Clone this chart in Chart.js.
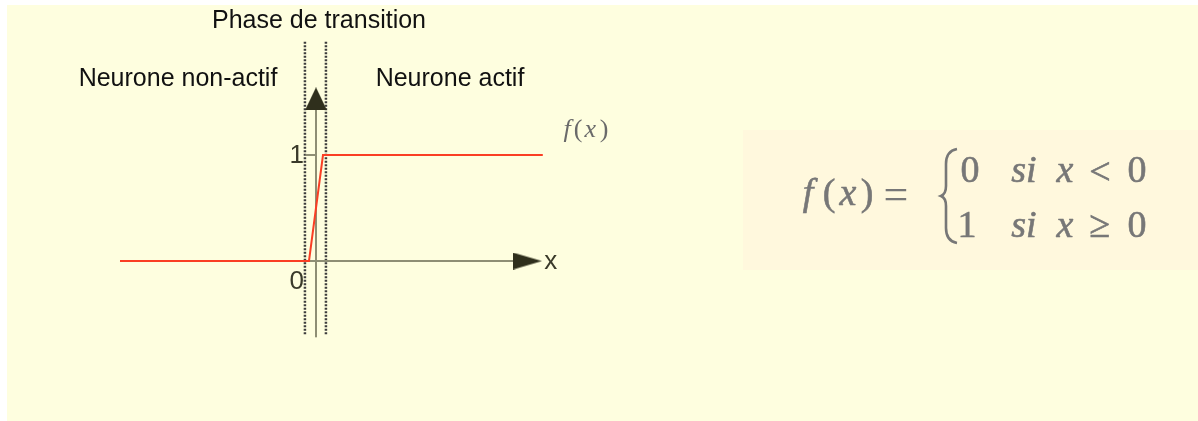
<!DOCTYPE html>
<html lang="fr">
<head>
<meta charset="UTF-8">
<title>Fonction seuil</title>
<script src="https://cdn.jsdelivr.net/npm/chart.js@4.4.1/dist/chart.umd.min.js"></script>
<style>
  body { margin: 0; background: #fff; }
  #wrap { position: relative; width: 1198px; height: 421px; }
</style>
</head>
<body>
<div id="wrap"><canvas id="canvas" width="1198" height="421"></canvas></div>
<script>
// step function f(x), transition between -0.5 and 0.5
let stepX = [-14, -0.5, 0.5, 16.2];
let stepY = [0, 0, 1, 1];
// axis lines
let xAxisX = [-0.8, 14.2];
let xAxisY = [0, 0];
let yAxisX = [0, 0];
let yAxisY = [-0.72, 1.45];
// arrow heads (x axis, y axis)
let arrowX = [15.1, 0];
let arrowY = [0, 1.53];
// transition zone (dotted bounds)
let zoneLeft = -0.79;
let zoneRight = 0.71;
let zoneY = [-0.69, 2.07];
// tick labels on y axis
let tickValues = [0, 1];
let tickLabels = ['0', '1'];

// view window
let xMin = -22.571, xMax = 63;
let yMin = -1.5094, yMax = 2.4623;

function pts(xs, ys) {
    return xs.map(function(x, i){ return {x: x, y: ys[i]}; });
}

function makeArrow(w, h, dir) {
    let c = document.createElement('canvas');
    c.width = w; c.height = h;
    let g = c.getContext('2d');
    g.fillStyle = '#2f2f1c';
    g.beginPath();
    if (dir === 'up') {
        g.moveTo(w / 2, 0); g.lineTo(w, h); g.lineTo(0, h);
    } else {
        g.moveTo(w, h / 2); g.lineTo(0, 0); g.lineTo(0, h);
    }
    g.closePath();
    g.fill();
    return c;
}
let arrowRight = makeArrow(29, 17, 'right');
let arrowUp = makeArrow(22, 23, 'up');

let axisColor = '#8e8e74';

let bgPlugin = {
    id: 'bg',
    beforeDraw: function(chart) {
        let ctx = chart.ctx;
        ctx.save();
        ctx.fillStyle = '#ffffff';
        ctx.fillRect(0, 0, chart.width, chart.height);
        ctx.fillStyle = '#fefedf';
        ctx.fillRect(7, 5, chart.width - 7, chart.height - 5);
        ctx.fillStyle = '#fff8dd';
        ctx.fillRect(743, 130, chart.width - 743, 140);
        ctx.restore();
    }
};

let textPlugin = {
    id: 'texts',
    afterDraw: function(chart) {
        let ctx = chart.ctx;
        let xs = chart.scales.x, ys = chart.scales.y;
        ctx.save();
        // headers
        ctx.fillStyle = '#111';
        ctx.font = '25px "Liberation Sans", Arial, sans-serif';
        ctx.textAlign = 'center';
        ctx.textBaseline = 'alphabetic';
        ctx.fillText('Phase de transition', 319, 28);
        ctx.fillText('Neurone non-actif', 178, 86);
        ctx.fillText('Neurone actif', 450, 86);

        // y tick labels
        ctx.fillStyle = '#3a3a2a';
        ctx.font = '26px "Liberation Sans", Arial, sans-serif';
        ctx.textAlign = 'right';
        let x0 = xs.getPixelForValue(0);
        tickValues.forEach(function(v, i){
            let py = ys.getPixelForValue(v);
            if (v === 0) {
                ctx.textBaseline = 'top';
                ctx.fillText(tickLabels[i], x0 - 12, py + 8);
            } else {
                ctx.textBaseline = 'middle';
                ctx.fillText(tickLabels[i], x0 - 12, py + 1);
            }
        });
        // axis name
        ctx.textAlign = 'left';
        ctx.textBaseline = 'middle';
        ctx.fillText('x', xs.getPixelForValue(16.3), ys.getPixelForValue(0) + 1);

        // curve name, spaced like a math label
        ctx.fillStyle = '#6a6a6a';
        ctx.textAlign = 'center';
        ctx.textBaseline = 'alphabetic';
        let lx = xs.getPixelForValue(19.3), ly = ys.getPixelForValue(1.25) + 8;
        ctx.font = 'italic 26px "Liberation Serif", serif';
        ctx.fillText('f', lx - 19, ly);
        ctx.fillText('x', lx + 4, ly);
        ctx.font = '26px "Liberation Serif", serif';
        ctx.fillText('(', lx - 8, ly);
        ctx.fillText(')', lx + 18, ly);

        // formula
        ctx.fillStyle = '#777';
        ctx.strokeStyle = '#777';
        ctx.lineWidth = 0.6;
        let it = 'italic 38px "Liberation Serif", serif';
        let up = '38px "Liberation Serif", serif';
        function t(s, x, y, f) { ctx.font = f; ctx.fillText(s, x, y); ctx.strokeText(s, x, y); }
        t('f', 808, 205, it);
        t('(', 829, 205, up);
        t('x', 848, 205, it);
        t(')', 867, 205, up);
        ctx.font = '44px "Liberation Serif", serif';
        ctx.fillText('=', 896, 209);
        t('0', 970, 182, up);
        t('si', 1024, 182, it);
        t('x', 1065, 182, it);
        t('<', 1100, 184, up);
        t('0', 1137, 182, up);
        t('1', 967, 237, up);
        t('si', 1024, 237, it);
        t('x', 1065, 237, it);
        t('\u2265', 1100, 237, up);
        t('0', 1137, 237, up);
        // brace
        ctx.lineWidth = 2.6;
        ctx.beginPath();
        ctx.moveTo(957, 149);
        ctx.quadraticCurveTo(946, 151, 946, 164);
        ctx.lineTo(946, 186);
        ctx.quadraticCurveTo(946, 194, 941, 196);
        ctx.quadraticCurveTo(946, 198, 946, 206);
        ctx.lineTo(946, 228);
        ctx.quadraticCurveTo(946, 241, 957, 243);
        ctx.stroke();
        ctx.restore();
    }
};

let options = {
    type: 'line',
    data: {
        datasets: [{
            data: pts(stepX, stepY),
            borderColor: '#fa3e24',
            borderWidth: 2,
            pointRadius: 0
        }, {
            type: 'scatter',
            data: pts(arrowX, arrowY),
            pointStyle: [arrowRight, arrowUp],
            pointRadius: 10,
            showLine: false
        }, {
            data: pts(xAxisX, xAxisY),
            borderColor: axisColor,
            borderWidth: 2,
            pointRadius: 0
        }, {
            data: pts(yAxisX, yAxisY),
            borderColor: axisColor,
            borderWidth: 2,
            pointRadius: 0
        }, {
            // tick mark at 1
            data: pts([-0.75, 0], [1, 1]),
            borderColor: axisColor,
            borderWidth: 2,
            pointRadius: 0
        }, {
            data: pts([zoneLeft, zoneLeft], zoneY),
            borderColor: '#3c3c3c',
            borderWidth: 2.5,
            borderDash: [2, 1.5],
            pointRadius: 0
        }, {
            data: pts([zoneRight, zoneRight], zoneY),
            borderColor: '#3c3c3c',
            borderWidth: 2.5,
            borderDash: [2, 1.5],
            pointRadius: 0
        }]
    },
    options: {
        responsive: false,
        animation: false,
        events: [],
        layout: { padding: 0, autoPadding: false },
        plugins: {
            legend: { display: false },
            tooltip: { enabled: false }
        },
        elements: { line: { tension: 0 } },
        scales: {
            x: { type: 'linear', min: xMin, max: xMax, display: false },
            y: { type: 'linear', min: yMin, max: yMax, display: false }
        }
    },
    plugins: [bgPlugin, textPlugin]
};

let chart1 = new Chart(document.getElementById('canvas'), options);
</script>
</body>
</html>
